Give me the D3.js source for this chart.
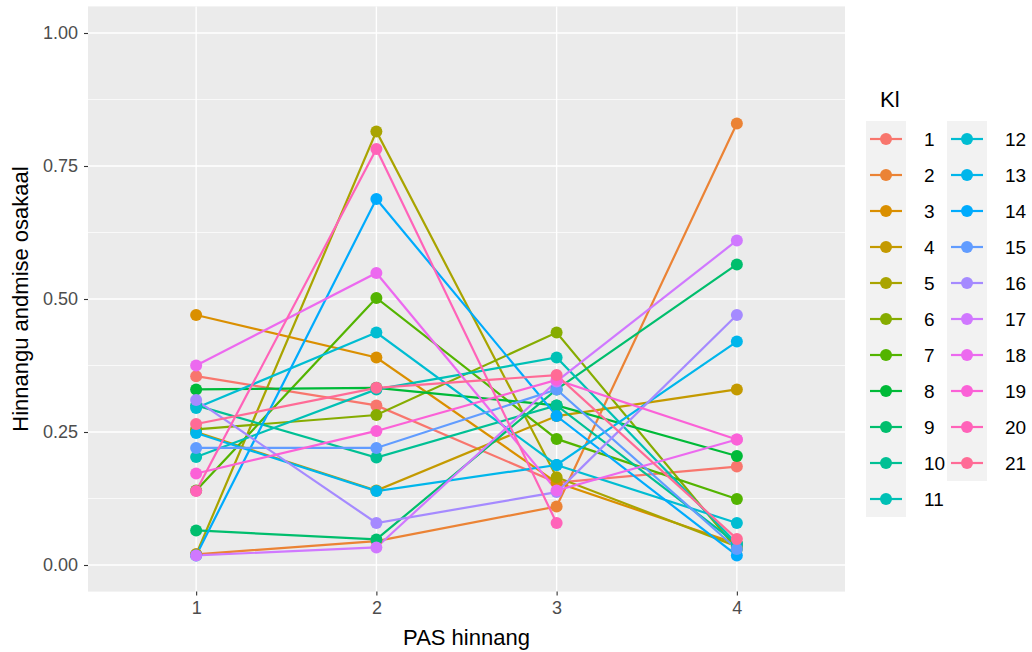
<!DOCTYPE html>
<html>
<head>
<meta charset="utf-8">
<script src="https://cdn.jsdelivr.net/npm/d3@7"></script>
<style>
  body { margin: 0; background: #ffffff; }
  text { font-family: "Liberation Sans", Arial, sans-serif; }
</style>
</head>
<body>
<svg id="chart" width="1032" height="652"></svg>
<script>
// PAS hinnang levels (x axis)
const pasLevels = [1, 2, 3, 4];
// Kl group labels (legend)
const klLabels = ["1","2","3","4","5","6","7","8","9","10","11","12","13","14","15","16","17","18","19","20","21"];
// Hinnangu andmise osakaal per Kl, one value per PAS level
const kl1  = [0.355, 0.300, 0.155, 0.185];
const kl2  = [0.020, 0.045, 0.110, 0.830];
const kl3  = [0.470, 0.390, 0.155, 0.040];
const kl4  = [0.250, 0.140, 0.280, 0.330];
const kl5  = [0.020, 0.815, 0.165, 0.035];
const kl6  = [0.255, 0.282, 0.437, 0.030];
const kl7  = [0.140, 0.502, 0.237, 0.124];
const kl8  = [0.330, 0.333, 0.300, 0.205];
const kl9  = [0.065, 0.048, 0.330, 0.565];
const kl10 = [0.300, 0.202, 0.300, 0.040];
const kl11 = [0.203, 0.330, 0.390, 0.040];
const kl12 = [0.295, 0.437, 0.188, 0.079];
const kl13 = [0.248, 0.139, 0.188, 0.420];
const kl14 = [0.018, 0.688, 0.280, 0.018];
const kl15 = [0.220, 0.220, 0.330, 0.030];
const kl16 = [0.310, 0.079, 0.137, 0.470];
const kl17 = [0.018, 0.033, 0.345, 0.610];
const kl18 = [0.375, 0.549, 0.140, 0.236];
const kl19 = [0.172, 0.252, 0.348, 0.236];
const kl20 = [0.139, 0.782, 0.079, null];
const kl21 = [0.265, 0.333, 0.357, 0.049];
const klValues = [kl1, kl2, kl3, kl4, kl5, kl6, kl7, kl8, kl9, kl10, kl11,
                  kl12, kl13, kl14, kl15, kl16, kl17, kl18, kl19, kl20, kl21];
const yTicks = [0, 0.25, 0.5, 0.75, 1];
const yMinor = [0.125, 0.375, 0.625, 0.875];

// Evenly spaced hues in polar LUV (l = 65, c = 100), as in the usual hue palette
function hclLuv(h, c, l) {
  const hr = h * Math.PI / 180;
  const U = c * Math.cos(hr), V = c * Math.sin(hr);
  const Xn = 95.047, Yn = 100, Zn = 108.883;
  const un = 4 * Xn / (Xn + 15 * Yn + 3 * Zn), vn = 9 * Yn / (Xn + 15 * Yn + 3 * Zn);
  const Y = l > 8 ? Yn * Math.pow((l + 16) / 116, 3) : Yn * l / 903.3;
  const up = U / (13 * l) + un, vp = V / (13 * l) + vn;
  const X = Y * 9 * up / (4 * vp);
  const Z = Y * (12 - 3 * up - 20 * vp) / (4 * vp);
  const x = X / 100, y = Y / 100, z = Z / 100;
  const lin = [
     3.240479 * x - 1.537150 * y - 0.498535 * z,
    -0.969256 * x + 1.875992 * y + 0.041556 * z,
     0.055648 * x - 0.204043 * y + 1.057311 * z
  ];
  const g = lin.map(v => {
    const s = v <= 0.0031308 ? 12.92 * v : 1.055 * Math.pow(v, 1 / 2.4) - 0.055;
    return Math.round(Math.max(0, Math.min(1, s)) * 255);
  });
  return d3.rgb(g[0], g[1], g[2]).formatHex();
}
const n = klLabels.length;
const palette = klLabels.map((_, i) => hclLuv(15 + i * 360 / n, 100, 65));
const color = d3.scaleOrdinal().domain(klLabels).range(palette);

const svg = d3.select("#chart");
const panel = { left: 88, right: 845, top: 6.4, bottom: 591.6 };
const font = "'Liberation Sans', Arial, sans-serif";

const x = d3.scaleLinear().domain([0.4, 4.6]).range([panel.left, panel.right]);
const y = d3.scaleLinear().domain([-0.05, 1.05]).range([panel.bottom, panel.top]);

// panel background and grid
svg.append("rect")
  .attr("x", panel.left).attr("y", panel.top)
  .attr("width", panel.right - panel.left).attr("height", panel.bottom - panel.top)
  .attr("fill", "#EBEBEB");

svg.append("g").selectAll("line").data(yMinor).join("line")
  .attr("x1", panel.left).attr("x2", panel.right)
  .attr("y1", d => y(d)).attr("y2", d => y(d))
  .attr("stroke", "#ffffff").attr("stroke-width", 0.7);
svg.append("g").selectAll("line").data(yTicks).join("line")
  .attr("x1", panel.left).attr("x2", panel.right)
  .attr("y1", d => y(d)).attr("y2", d => y(d))
  .attr("stroke", "#ffffff").attr("stroke-width", 1.4);
svg.append("g").selectAll("line").data(pasLevels).join("line")
  .attr("x1", d => x(d)).attr("x2", d => x(d))
  .attr("y1", panel.top).attr("y2", panel.bottom)
  .attr("stroke", "#ffffff").attr("stroke-width", 1.4);

// lines per Kl
const records = klLabels.map((k, i) => ({
  kl: k,
  pts: pasLevels.map((p, j) => ({ pas: p, v: klValues[i][j] }))
}));
const line = d3.line()
  .defined(d => d.v !== null)
  .x(d => x(d.pas)).y(d => y(d.v));

svg.append("g").selectAll("path").data(records).join("path")
  .attr("d", d => line(d.pts))
  .attr("fill", "none")
  .attr("stroke", d => color(d.kl))
  .attr("stroke-width", 2.2);

// points
svg.append("g").selectAll("g").data(records).join("g")
  .attr("fill", d => color(d.kl))
  .selectAll("circle").data(d => d.pts.filter(p => p.v !== null)).join("circle")
  .attr("cx", d => x(d.pas)).attr("cy", d => y(d.v)).attr("r", 6);

// axes
const yAxis = svg.append("g")
  .attr("transform", `translate(${panel.left},0)`)
  .call(d3.axisLeft(y).tickValues(yTicks).tickFormat(d3.format(".2f")).tickSize(4).tickPadding(6));
const xAxis = svg.append("g")
  .attr("transform", `translate(0,${panel.bottom})`)
  .call(d3.axisBottom(x).tickValues(pasLevels).tickFormat(d3.format("d")).tickSize(4).tickPadding(6));
[yAxis, xAxis].forEach(a => {
  a.select(".domain").remove();
  a.selectAll(".tick line").attr("stroke", "#333333").attr("stroke-width", 1.1);
  a.selectAll(".tick text").attr("fill", "#4D4D4D").style("font-size", "18px")
    .style("font-family", font);
});

// axis titles
svg.append("text")
  .attr("x", (panel.left + panel.right) / 2).attr("y", 645)
  .attr("text-anchor", "middle").style("font-size", "22px").attr("fill", "#000")
  .text("PAS hinnang");
svg.append("text")
  .attr("transform", `translate(28,${(panel.top + panel.bottom) / 2}) rotate(-90)`)
  .attr("text-anchor", "middle").style("font-size", "22px").attr("fill", "#000")
  .text("Hinnangu andmise osakaal");

// legend
const legend = svg.append("g").attr("transform", "translate(866,0)");
legend.append("text").attr("x", 14).attr("y", 107)
  .style("font-size", "22px").attr("fill", "#000").text("Kl");
const keyW = 40, keyH = 36, colGap = 81, top0 = 121, perCol = 11;
const items = legend.selectAll("g.item").data(klLabels).join("g")
  .attr("class", "item")
  .attr("transform", (d, i) => {
    const col = Math.floor(i / perCol), row = i % perCol;
    return `translate(${col * colGap},${top0 + row * keyH})`;
  });
items.append("rect").attr("width", keyW).attr("height", keyH).attr("fill", "#F2F2F2");
items.append("line").attr("x1", 4).attr("x2", keyW - 4)
  .attr("y1", keyH / 2).attr("y2", keyH / 2)
  .attr("stroke", d => color(d)).attr("stroke-width", 2.2);
items.append("circle").attr("cx", keyW / 2).attr("cy", keyH / 2).attr("r", 6)
  .attr("fill", d => color(d));
items.append("text").attr("x", keyW + 18).attr("y", keyH / 2 + 7)
  .style("font-size", "19px").attr("fill", "#000").text(d => d);
</script>
</body>
</html>
